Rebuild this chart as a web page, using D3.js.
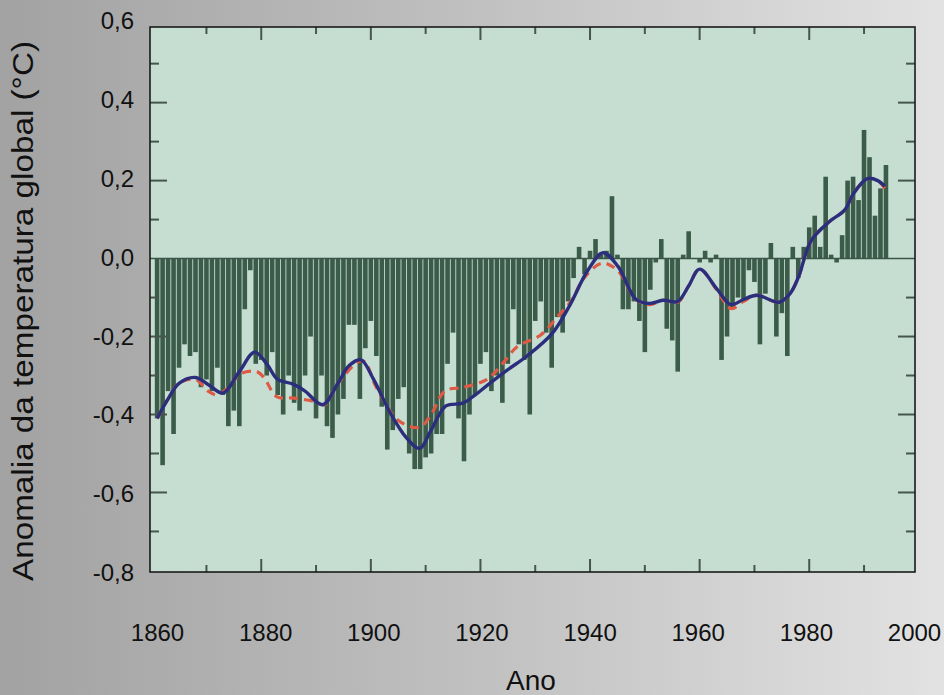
<!DOCTYPE html>
<html>
<head>
<meta charset="utf-8">
<script src="https://cdn.jsdelivr.net/npm/d3@7"></script>
<style>
  html, body { margin: 0; padding: 0; }
  body { width: 944px; height: 695px; overflow: hidden; }
  svg { display: block; }
  text { font-family: "Liberation Sans", Arial, sans-serif; fill: #111; }
</style>
</head>
<body>
<svg id="chart" width="944" height="695"></svg>
<script>
// Global temperature anomaly, annual values from 1861 onwards (°C)
const firstYear = 1861;
const anomalies = [
  -0.41, -0.53, -0.34, -0.45, -0.28, -0.22, -0.25, -0.24, -0.33,          // 1861-1869
  -0.31, -0.34, -0.28, -0.35, -0.43, -0.39, -0.43, -0.13, -0.03, -0.27,   // 1870s
  -0.26, -0.30, -0.24, -0.35, -0.40, -0.30, -0.37, -0.39, -0.30, -0.20,   // 1880s
  -0.41, -0.30, -0.43, -0.46, -0.40, -0.36, -0.17, -0.17, -0.36, -0.23,   // 1890s
  -0.16, -0.25, -0.38, -0.49, -0.44, -0.36, -0.33, -0.50, -0.54, -0.54,   // 1900s
  -0.51, -0.50, -0.45, -0.45, -0.27, -0.19, -0.41, -0.52, -0.40, -0.35,   // 1910s
  -0.27, -0.24, -0.34, -0.30, -0.37, -0.27, -0.13, -0.22, -0.26, -0.40,   // 1920s
  -0.16, -0.11, -0.19, -0.28, -0.15, -0.19, -0.11, -0.05,  0.03, -0.04,   // 1930s
   0.02,  0.05,  0.01,  0.02,  0.16,  0.01, -0.13, -0.13, -0.11, -0.16,   // 1940s
  -0.24, -0.08, -0.01,  0.05, -0.18, -0.21, -0.29,  0.01,  0.07,  0.00,   // 1950s
  -0.01,  0.02, -0.01,  0.01, -0.26, -0.20, -0.13, -0.10, -0.11, -0.03,   // 1960s
  -0.06, -0.22, -0.09,  0.04, -0.20, -0.14, -0.25,  0.03, -0.05,  0.03,   // 1970s
   0.08,  0.11,  0.03,  0.21,  0.01, -0.01,  0.06,  0.20,  0.21,  0.15,   // 1980s
   0.33,  0.26,  0.11,  0.18,  0.24                                        // 1990-1994
];

// Smoothed curve (solid blue): [year, anomaly]
const smoothBlue = [
  [1861, -0.41], [1863, -0.36], [1865, -0.32], [1868, -0.305], [1870.5, -0.325],
  [1873, -0.345], [1876, -0.29], [1878.8, -0.24], [1881, -0.27], [1883, -0.31],
  [1885.8, -0.322], [1888, -0.34], [1891.2, -0.375], [1894, -0.32], [1896, -0.275],
  [1898.2, -0.26], [1900.5, -0.31], [1903.5, -0.395], [1906.5, -0.46], [1908.9, -0.487],
  [1911, -0.44], [1913.7, -0.378], [1916.8, -0.371], [1919, -0.35], [1921.7, -0.32],
  [1925, -0.285], [1928.5, -0.25], [1933.1, -0.192], [1936.3, -0.12], [1939.6, -0.03],
  [1942.4, 0.015], [1945.1, -0.02], [1948.4, -0.105], [1950.9, -0.115], [1953.3, -0.107],
  [1956, -0.11], [1958, -0.07], [1960, -0.027], [1963.1, -0.077], [1965.7, -0.118],
  [1968, -0.105], [1970.4, -0.094], [1974.5, -0.112], [1976.5, -0.09], [1978.1, -0.045],
  [1980.3, 0.045], [1983.7, 0.095], [1986.5, 0.125], [1988, 0.165], [1990.6, 0.205],
  [1992.5, 0.2], [1993.8, 0.185]
];

// Second smoothed curve (dashed red): [year, anomaly]
const smoothRed = [
  [1861, -0.41], [1863, -0.36], [1865, -0.32], [1868, -0.31], [1870.3, -0.34],
  [1872, -0.35], [1874, -0.33], [1876.3, -0.295], [1879.2, -0.29], [1880.5, -0.305],
  [1882.8, -0.354], [1886, -0.358], [1889.8, -0.367], [1891.6, -0.375], [1894, -0.32],
  [1898.5, -0.262], [1901, -0.33], [1904.9, -0.414], [1908.9, -0.433], [1911, -0.40],
  [1913.5, -0.34], [1917, -0.33], [1921.2, -0.31], [1924, -0.27], [1926.7, -0.226],
  [1931, -0.196], [1934, -0.15], [1936.7, -0.106], [1938.8, -0.052], [1942.2, -0.012],
  [1945, -0.03], [1948.4, -0.105], [1950.9, -0.118], [1953.3, -0.107], [1956, -0.112],
  [1958, -0.07], [1960, -0.027], [1963.1, -0.08], [1965.7, -0.128], [1968, -0.11],
  [1970.4, -0.094], [1974.5, -0.112], [1976.5, -0.09], [1978.1, -0.045], [1980.3, 0.045],
  [1983.7, 0.095], [1986.5, 0.125], [1988, 0.165], [1990.6, 0.205], [1992.5, 0.2],
  [1993.8, 0.18]
];

// Axis labels
const xLabelYears = [1860, 1880, 1900, 1920, 1940, 1960, 1980, 2000];
const yLabelValues = [0.6, 0.4, 0.2, 0.0, -0.2, -0.4, -0.6, -0.8];
const frameXTicks = [1870, 1880, 1890, 1900, 1910, 1920, 1930, 1940, 1950, 1960, 1970, 1980, 1990];
const frameYTicks = [0.5, 0.4, 0.3, 0.2, 0.1, -0.1, -0.2, -0.3, -0.4, -0.5, -0.6, -0.7];
const xTitle = "Ano";
const yTitle = "Anomalia da temperatura global (°C)";

const svg = d3.select("#chart");
const W = 944, H = 695;
const frame = { left: 150, right: 915, top: 27, bottom: 572 };

// Page background: grey horizontal gradient
const defs = svg.append("defs");
const grad = defs.append("linearGradient").attr("id", "bg").attr("x1", 0).attr("x2", 1).attr("y1", 0).attr("y2", 0);
grad.append("stop").attr("offset", "0%").attr("stop-color", "#a2a2a2");
grad.append("stop").attr("offset", "50%").attr("stop-color", "#c0c0c0");
grad.append("stop").attr("offset", "100%").attr("stop-color", "#e2e2e2");
defs.append("filter").attr("id", "soft")
  .append("feGaussianBlur").attr("stdDeviation", 0.55);
defs.append("clipPath").attr("id", "plotClip").append("rect")
  .attr("x", frame.left).attr("y", frame.top)
  .attr("width", frame.right - frame.left).attr("height", frame.bottom - frame.top);

svg.append("rect").attr("width", W).attr("height", H).attr("fill", "url(#bg)");

// Data scales for the plotted panel
const x = d3.scaleLinear().domain([1859.7, 1999.3]).range([frame.left, frame.right]);
const y = d3.scaleLinear().domain([-0.804, 0.594]).range([frame.bottom, frame.top]);

const plot = svg.append("g").attr("filter", "url(#soft)");
plot.append("rect")
  .attr("x", frame.left).attr("y", frame.top)
  .attr("width", frame.right - frame.left).attr("height", frame.bottom - frame.top)
  .attr("fill", "#c6ded2");

const inner = plot.append("g").attr("clip-path", "url(#plotClip)");

// Bars
const barW = 4.6;
inner.append("g").selectAll("rect")
  .data(anomalies.map((v, i) => ({ year: firstYear + i, v })))
  .join("rect")
  .attr("x", d => x(d.year) - barW / 2)
  .attr("width", barW)
  .attr("y", d => y(Math.max(0, d.v)))
  .attr("height", d => Math.abs(y(d.v) - y(0)))
  .attr("fill", "#3b5b49");

// Zero line
inner.append("line")
  .attr("x1", frame.left).attr("x2", frame.right)
  .attr("y1", y(0)).attr("y2", y(0))
  .attr("stroke", "#3b5548").attr("stroke-width", 1.6);

// Frame tick marks (inside the panel, on all four sides)
const tickColor = "#46564e";
const xt = inner.append("g").attr("stroke", tickColor).attr("stroke-width", 2);
frameXTicks.forEach(t => {
  const len = t % 20 === 0 ? 13 : 7;
  xt.append("line").attr("x1", x(t)).attr("x2", x(t)).attr("y1", frame.top).attr("y2", frame.top + len);
  xt.append("line").attr("x1", x(t)).attr("x2", x(t)).attr("y1", frame.bottom).attr("y2", frame.bottom - len);
});
frameYTicks.forEach(t => {
  const major = Math.round(t * 10) % 2 === 0;
  const len = major ? 17 : 9;
  xt.append("line").attr("x1", frame.left).attr("x2", frame.left + len).attr("y1", y(t)).attr("y2", y(t));
  xt.append("line").attr("x1", frame.right).attr("x2", frame.right - len).attr("y1", y(t)).attr("y2", y(t));
});

// Smoothed curves
const line = d3.line().x(d => x(d[0])).y(d => y(d[1])).curve(d3.curveCatmullRom.alpha(0.5));
inner.append("path").datum(smoothRed)
  .attr("d", line).attr("fill", "none")
  .attr("stroke", "#de5a44").attr("stroke-width", 3.2)
  .attr("stroke-dasharray", "9,6");
inner.append("path").datum(smoothBlue)
  .attr("d", line).attr("fill", "none")
  .attr("stroke", "#2c2f7c").attr("stroke-width", 3.4);

// Frame border
plot.append("rect")
  .attr("x", frame.left).attr("y", frame.top)
  .attr("width", frame.right - frame.left).attr("height", frame.bottom - frame.top)
  .attr("fill", "none").attr("stroke", "#1c1c1c").attr("stroke-width", 1.6);

// Outer labelled axes
const fmt = v => (v < 0 ? "-" : "") + Math.abs(v).toFixed(1).replace(".", ",");
const xLab = d3.scaleLinear().domain([1860, 2000]).range([157, 914]);
const yLab = d3.scaleLinear().domain([-0.8, 0.6]).range([573, 21]);

const xAxis = svg.append("g").attr("transform", "translate(0,624)")
  .call(d3.axisBottom(xLab).tickValues(xLabelYears).tickFormat(d3.format("d")).tickSize(0).tickPadding(0));
xAxis.select(".domain").remove();
xAxis.selectAll("text").attr("font-size", 24).attr("dy", "0.71em").attr("fill", "#111")
  .style("font-family", "'Liberation Sans', Arial, sans-serif");

const yAxis = svg.append("g").attr("transform", "translate(134,0)")
  .call(d3.axisLeft(yLab).tickValues(yLabelValues).tickFormat(fmt).tickSize(0).tickPadding(0));
yAxis.select(".domain").remove();
yAxis.selectAll("text").attr("font-size", 24).attr("fill", "#111")
  .style("font-family", "'Liberation Sans', Arial, sans-serif");

svg.append("text")
  .attr("x", 531).attr("y", 690)
  .attr("text-anchor", "middle").attr("font-size", 28)
  .text(xTitle);

svg.append("text")
  .attr("transform", "translate(33,311) rotate(-90)")
  .attr("text-anchor", "middle").attr("font-size", 30)
  .attr("textLength", 540).attr("lengthAdjust", "spacingAndGlyphs")
  .text(yTitle);
</script>
</body>
</html>
